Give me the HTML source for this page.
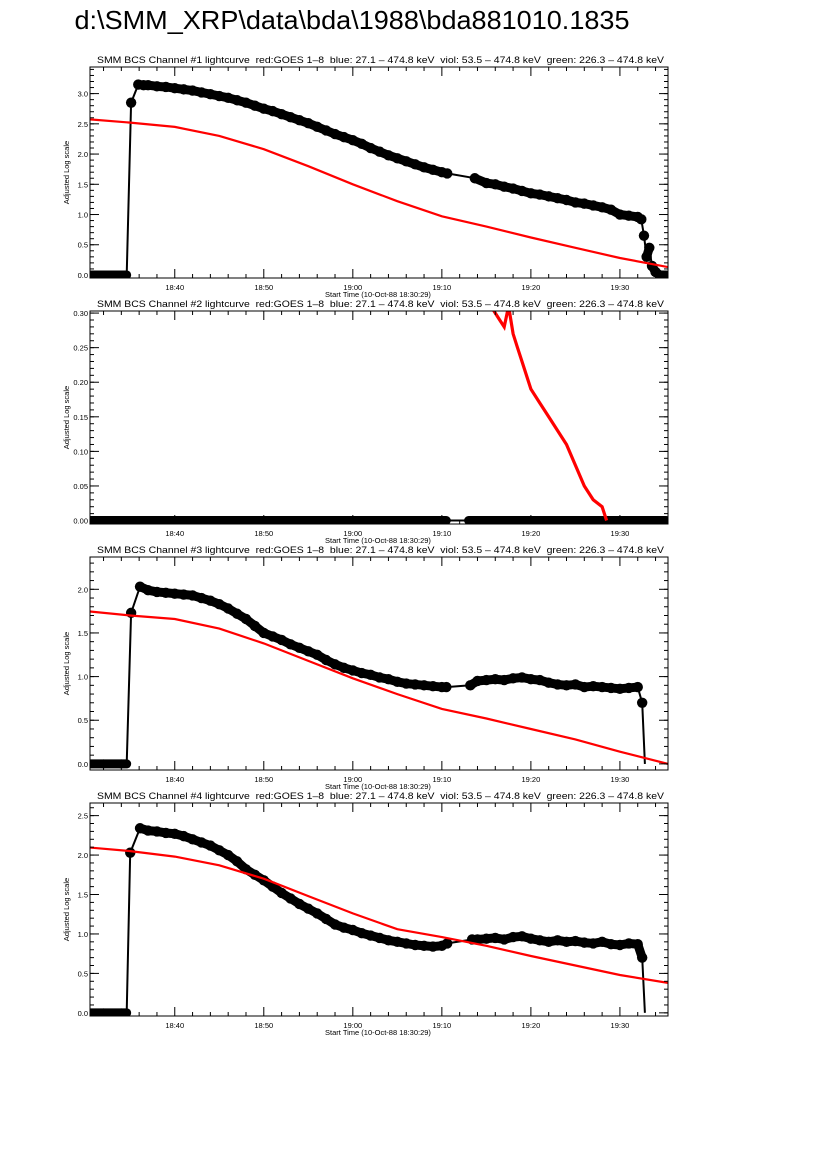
<!DOCTYPE html>
<html><head><meta charset="utf-8"><style>
body{margin:0;background:#fff;width:826px;height:1169px;overflow:hidden;font-family:"Liberation Sans",sans-serif}
svg{position:absolute;left:0;top:0}
</style></head><body>
<svg id="s" width="826" height="1169" xmlns="http://www.w3.org/2000/svg">
<text x="352" y="29" font-size="26" text-anchor="middle" textLength="555" lengthAdjust="spacingAndGlyphs" font-family="Liberation Sans,sans-serif">d:\SMM_XRP\data\bda\1988\bda881010.1835</text>
</svg>
<script>
// minutes after 18:30:00
const xTickLabels=["18:40","18:50","19:00","19:10","19:20","19:30"];
const xTickMinutes=[10,20,30,40,50,60];
const bk1t=[0.6,1,2,3,4,4.6,5.1,5.9,6.5,7,8,9,10,11,12,13,14,15,16,17,18,19,20,21,22,23,24,25,26,27,28,29,30,31,32,33,34,35,36,37,38,39,40,40.6,43.7,45,46,47,48,49,50,51,52,53,54,55,56,57,58,59,60,61,62,62.4,62.7,63,63.3,63.6,64,64.5,65.2];
const bk1v=[0,0,0,0,0,0,2.85,3.15,3.14,3.14,3.12,3.11,3.09,3.07,3.05,3.02,2.99,2.96,2.93,2.89,2.85,2.80,2.75,2.71,2.66,2.61,2.56,2.51,2.45,2.39,2.33,2.28,2.23,2.17,2.1,2.04,1.98,1.93,1.88,1.83,1.78,1.74,1.7,1.68,1.6,1.52,1.5,1.46,1.43,1.39,1.35,1.33,1.3,1.27,1.24,1.2,1.18,1.15,1.12,1.08,1.0,0.98,0.96,0.92,0.65,0.3,0.45,0.15,0.05,0,0];
const rd1t=[0,5,10,15,20,25,30,35,40,45,50,55,60,65.4];
const rd1v=[2.58,2.52,2.45,2.3,2.08,1.8,1.5,1.22,0.97,0.8,0.62,0.45,0.28,0.13];
const bk2t=[0.6,2,4,6,8,10,12,14,16,18,20,22,24,26,28,30,32,34,36,38,40,40.5,43,45,47,49,51,53,55,57,59,61,63,65.2];
const bk2v=[0,0,0,0,0,0,0,0,0,0,0,0,0,0,0,0,0,0,0,0,0,0,0,0,0,0,0,0,0,0,0,0,0,0];
const rd2t=[45.5,46,46.5,47,47.5,48,48.5,49,50,51,52,53,54,55,56,57,58,58.5];
const rd2v=[0.31,0.3,0.29,0.28,0.31,0.27,0.25,0.23,0.19,0.17,0.15,0.13,0.11,0.08,0.05,0.03,0.02,0.0];
const bk3t=[0.6,2,4,4.6,5.1,6.1,7,8,9,10,11,12,13,14,15,16,17,18,19,20,21,22,23,24,25,26,27,28,29,30,31,32,33,34,35,36,37,38,39,40,40.5,43.2,44,45,46,47,48,49,50,51,52,53,54,55,56,57,58,59,60,61,62,62.5,62.8];
const bk3v=[0,0,0,0,1.73,2.03,1.99,1.97,1.96,1.95,1.94,1.93,1.9,1.87,1.83,1.78,1.72,1.66,1.58,1.5,1.46,1.42,1.37,1.33,1.29,1.25,1.19,1.14,1.1,1.07,1.04,1.02,0.99,0.97,0.94,0.92,0.91,0.9,0.89,0.88,0.88,0.9,0.95,0.96,0.97,0.96,0.98,0.99,0.97,0.96,0.93,0.91,0.9,0.91,0.88,0.89,0.88,0.87,0.86,0.87,0.88,0.7,0];
const rd3t=[0,5,10,15,20,25,30,35,40,45,50,55,60,65.4];
const rd3v=[1.75,1.7,1.66,1.55,1.38,1.18,0.98,0.8,0.63,0.52,0.4,0.28,0.14,0.0];
const bk4t=[0.6,2,4,4.6,5.0,6.1,7,8,9,10,11,12,13,14,15,16,17,18,19,20,21,22,23,24,25,26,27,28,29,30,31,32,33,34,35,36,37,38,39,40,40.6,43.4,44,45,46,47,48,49,50,51,52,53,54,55,56,57,58,59,60,61,62,62.5,62.8];
const bk4v=[0,0,0,0,2.03,2.34,2.31,2.3,2.28,2.27,2.24,2.2,2.16,2.12,2.06,2.0,1.92,1.82,1.75,1.68,1.6,1.52,1.45,1.38,1.32,1.26,1.19,1.12,1.08,1.05,1.01,0.98,0.95,0.92,0.9,0.88,0.86,0.85,0.84,0.85,0.88,0.93,0.93,0.94,0.95,0.93,0.96,0.97,0.94,0.92,0.9,0.92,0.9,0.91,0.89,0.88,0.9,0.87,0.86,0.88,0.87,0.7,0];
const rd4t=[0,5,10,15,20,25,30,35,40,45,50,55,60,65.4];
const rd4v=[2.1,2.05,1.98,1.87,1.7,1.48,1.26,1.06,0.96,0.85,0.72,0.6,0.48,0.38];

const S=document.getElementById('s'),NS="http://www.w3.org/2000/svg";
function mk(t,a,p){const e=document.createElementNS(NS,t);for(const k in a)e.setAttribute(k,a[k]);(p||S).appendChild(e);return e;}
const L=90,R=668,X0=0.48,X1=65.4;
const xs=m=>L+(m-X0)/(X1-X0)*(R-L);
const panels=[
 {top:67,bot:278,y0:-0.05,y1:3.44,maj:[0,0.5,1,1.5,2,2.5,3],lab:["0.0","0.5","1.0","1.5","2.0","2.5","3.0"],minor:0.1,bt:bk1t,bv:bk1v,rt:rd1t,rv:rd1v,rw:2.2,n:1},
 {top:311,bot:524,y0:-0.005,y1:0.303,maj:[0,0.05,0.1,0.15,0.2,0.25,0.3],lab:["0.00","0.05","0.10","0.15","0.20","0.25","0.30"],minor:0.01,bt:bk2t,bv:bk2v,rt:rd2t,rv:rd2v,rw:3.2,n:2},
 {top:557,bot:770,y0:-0.07,y1:2.37,maj:[0,0.5,1,1.5,2],lab:["0.0","0.5","1.0","1.5","2.0"],minor:0.1,bt:bk3t,bv:bk3v,rt:rd3t,rv:rd3v,rw:2.2,n:3},
 {top:803,bot:1016,y0:-0.04,y1:2.66,maj:[0,0.5,1,1.5,2,2.5],lab:["0.0","0.5","1.0","1.5","2.0","2.5"],minor:0.1,bt:bk4t,bv:bk4v,rt:rd4t,rv:rd4v,rw:2.2,n:4}];
panels.forEach(p=>{
 const g=mk('g',{});
 
 
 const ys=v=>p.bot-(v-p.y0)/(p.y1-p.y0)*(p.bot-p.top);
 const cid='c'+p.n;
 const cp=mk('clipPath',{id:cid},g);mk('rect',{x:L,y:p.top,width:R-L,height:p.bot-p.top},cp);
 const t=mk('text',{x:97,y:p.top-4,'font-size':9.5,textLength:567,lengthAdjust:'spacingAndGlyphs'},g);
 t.setAttributeNS("http://www.w3.org/XML/1998/namespace","xml:space","preserve");
 t.style.whiteSpace='pre';
 t.textContent='SMM BCS Channel #'+p.n+' lightcurve  red:GOES 1\u20138  blue: 27.1 \u2013 474.8 keV  viol: 53.5 \u2013 474.8 keV  green: 226.3 \u2013 474.8 keV';
 
 
 const dg=mk('g',{'clip-path':'url(#'+cid+')'},g);
 const bpts=p.bt.map((m,i)=>xs(m).toFixed(1)+','+ys(p.bv[i]).toFixed(1)).join(' ');
 const bl=mk('polyline',{points:bpts,fill:'none',stroke:'#000','stroke-width':2},dg);
 
 
 for(let i=1;i<p.bt.length;i++){
  const x1=xs(p.bt[i-1]),x2=xs(p.bt[i]),y1=ys(p.bv[i-1]),y2=ys(p.bv[i]);
  if(p.bt[i]-p.bt[i-1]<=2.3&&Math.abs(y2-y1)<14){
   const sg=mk('line',{x1:x1,y1:y1,x2:x2,y2:y2,stroke:'#000','stroke-width':9,'stroke-linecap':'round'},dg);
   
   }
 }
 p.bt.forEach((m,i)=>{if(p.bv[i]<=0)return;const c=mk('circle',{cx:xs(m),cy:ys(p.bv[i]),r:5.2,fill:'#000'},dg);
  
  });
 const rpts=p.rt.map((m,i)=>xs(m).toFixed(1)+','+ys(p.rv[i]).toFixed(1)).join(' ');
 const rl=mk('polyline',{points:rpts,fill:'none',stroke:'#f00','stroke-width':p.rw},dg);
 
 
 mk('rect',{x:L,y:p.top,width:R-L,height:p.bot-p.top,fill:'none',stroke:'#000','stroke-width':1},g);
 for(let v=Math.ceil(p.y0/p.minor)*p.minor;v<=p.y1;v+=p.minor){const y=ys(v);
  mk('line',{x1:L,x2:L+4,y1:y,y2:y,stroke:'#000'},g);mk('line',{x1:R,x2:R-4,y1:y,y2:y,stroke:'#000'},g);}
 p.maj.forEach((v,i)=>{const y=ys(v);
  mk('line',{x1:L,x2:L+9,y1:y,y2:y,stroke:'#000'},g);mk('line',{x1:R,x2:R-9,y1:y,y2:y,stroke:'#000'},g);
  const tl=mk('text',{x:L-2,y:y+3,'font-size':7.5,'text-anchor':'end'},g);tl.textContent=p.lab[i];
  
  });
 for(let m=2;m<=X1;m+=2){const x=xs(m);const big=m%10==0;
  mk('line',{x1:x,x2:x,y1:p.bot,y2:p.bot-(big?9:4),stroke:'#000'},g);mk('line',{x1:x,x2:x,y1:p.top,y2:p.top+(big?9:4),stroke:'#000'},g);}
 xTickMinutes.forEach((m,i)=>{const tl=mk('text',{x:xs(m),y:p.bot+12,'font-size':7.5,'text-anchor':'middle'},g);tl.textContent=xTickLabels[i];
  
  });
 const xt=mk('text',{x:378,y:p.bot+19,'font-size':7.5,'text-anchor':'middle'},g);xt.textContent='Start Time (10-Oct-88 18:30:29)';
 
 
 const yc=(p.top+p.bot)/2;
 const yt=mk('text',{x:0,y:0,'font-size':7.5,'text-anchor':'middle',transform:'translate(69,'+yc+') rotate(-90)'},g);yt.textContent='Adjusted Log scale';
 
 
});
</script>
</body></html>
